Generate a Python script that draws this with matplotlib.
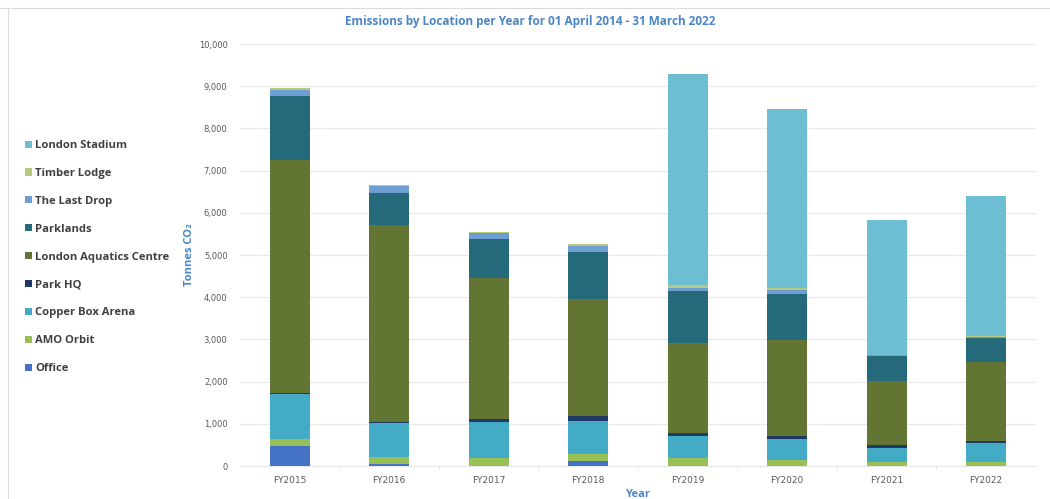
import numpy as np
import matplotlib
matplotlib.use("Agg")
import matplotlib.pyplot as plt
from matplotlib.ticker import FuncFormatter
from matplotlib.lines import Line2D
from matplotlib.patches import Patch

years = ["FY2015", "FY2016", "FY2017", "FY2018", "FY2019", "FY2020", "FY2021", "FY2022"]

# tonnes CO2, stacked bottom -> top
office          = [480, 50, 10, 110, 0, 0, 0, 0]
amo_orbit       = [160, 170, 170, 180, 180, 140, 100, 100]
copper_box      = [1070, 810, 870, 770, 520, 490, 320, 440]
park_hq         = [20, 20, 60, 120, 90, 80, 80, 60]
aquatics_centre = [5520, 4660, 3340, 2780, 2130, 2280, 1510, 1860]
parklands       = [1520, 770, 920, 1100, 1230, 1090, 590, 570]
last_drop       = [140, 160, 140, 150, 80, 90, 20, 30]
timber_lodge    = [50, 20, 30, 50, 50, 40, 10, 20]
london_stadium  = [0, 0, 0, 0, 5010, 4260, 3190, 3320]

series = [
    ("Office", office, "#4472c4"),
    ("AMO Orbit", amo_orbit, "#98c055"),
    ("Copper Box Arena", copper_box, "#44abc6"),
    ("Park HQ", park_hq, "#203864"),
    ("London Aquatics Centre", aquatics_centre, "#627532"),
    ("Parklands", parklands, "#256a7b"),
    ("The Last Drop", last_drop, "#6f9fd2"),
    ("Timber Lodge", timber_lodge, "#b4ca7c"),
    ("London Stadium", london_stadium, "#6dbdd3"),
]

fam = ["Open Sans", "DejaVu Sans"]

fig = plt.figure(figsize=(10.5, 4.99), dpi=100)
ax = fig.add_axes([0.2286, 0.0661, 0.758, 0.8457])

x = np.arange(len(years))
bottom = np.zeros(len(years))
for name, vals, color in series:
    vals = np.array(vals, dtype=float)
    ax.bar(x, vals, 0.4, bottom=bottom, color=color, label=name, zorder=3)
    bottom += vals

ax.set_xlim(-0.5, len(years) - 0.5)
ax.set_ylim(0, 10000)
ax.set_yticks(np.arange(0, 10001, 1000))
ax.yaxis.set_major_formatter(FuncFormatter(lambda v, p: f"{int(v):,}"))
ax.set_xticks(x)
ax.set_xticklabels(years)
ax.set_xticks(x[:-1] + 0.5, minor=True)
ax.tick_params(axis="both", which="major", length=0, labelsize=6.5,
               labelcolor="#595959", pad=9)
ax.tick_params(axis="y", which="major", labelsize=6)
ax.tick_params(axis="x", which="major", pad=7)
ax.tick_params(axis="x", which="minor", length=3, color="#e6e6e6")
ax.grid(axis="y", color="#e9e9e9", lw=0.8, zorder=0)
for s in ["top", "right", "left"]:
    ax.spines[s].set_visible(False)
ax.spines["bottom"].set_color("#e6e6e6")

ax.set_ylabel("Tonnes CO₂", color="#4a86c8", fontsize=8, fontweight="bold",
              family=fam)
ax.yaxis.set_label_coords(-0.057, 0.5)
ax.set_xlabel("Year", color="#4a86c8", fontsize=8, fontweight="bold",
              family=fam, labelpad=3)

fig.text(0.505, 1 - 22 / 499, "Emissions by Location per Year for 01 April 2014 - 31 March 2022",
         ha="center", va="center", color="#4a86c8", fontsize=8.5,
         fontweight="bold", family=fam)

handles = [Patch(facecolor=c, edgecolor="none") for _, _, c in series][::-1]
labels = [n for n, _, _ in series][::-1]
fig.legend(handles, labels, loc="upper left", bbox_to_anchor=(0.014, 1 - 130 / 499),
           frameon=False, handlelength=0.6, handleheight=0.6, handletextpad=0.3,
           labelspacing=1.5, prop={"family": fam, "weight": "bold", "size": 8.1},
           labelcolor="#404040")

# faint frame of the original screenshot
fig.add_artist(Line2D([0.0, 1.0], [1 - 8 / 499] * 2, color="#dddddd", lw=0.8))
fig.add_artist(Line2D([8 / 1050] * 2, [0, 1 - 8 / 499], color="#dddddd", lw=0.8))

fig.savefig("out.png", dpi=100)
